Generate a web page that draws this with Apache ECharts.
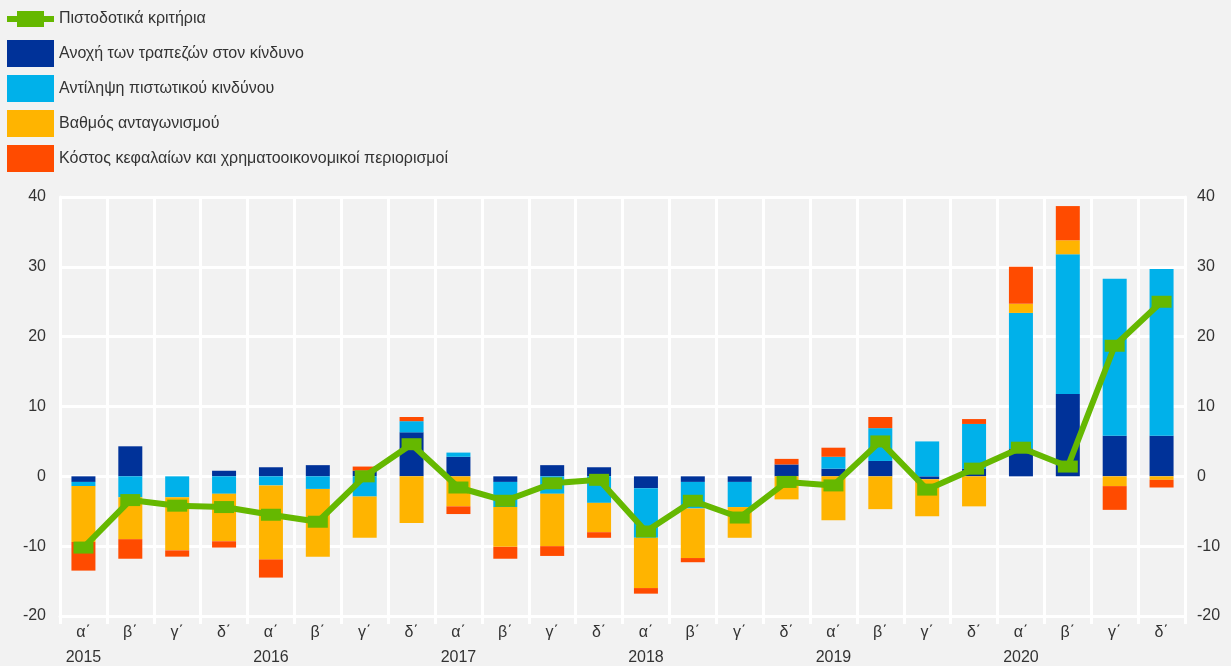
<!DOCTYPE html>
<html>
<head>
<meta charset="utf-8">
<script src="https://cdn.jsdelivr.net/npm/echarts@6/dist/echarts.min.js"></script>
<style>
html, body { margin: 0; padding: 0; background: #f2f2f2; }
#main { width: 1231px; height: 666px; }
</style>
</head>
<body>
<div id="main"></div>
<script>
// τρίμηνα και έτη
var quarters = ['α΄','β΄','γ΄','δ΄','α΄','β΄','γ΄','δ΄','α΄','β΄','γ΄','δ΄',
                'α΄','β΄','γ΄','δ΄','α΄','β΄','γ΄','δ΄','α΄','β΄','γ΄','δ΄'];
var years = ['2015','','','','2016','','','','2017','','','','2018','','','',
             '2019','','','','2020','','',''];

// συνιστώσες
var riskTolerance = [-0.8, 4.3, 0, 0.8, 1.3, 1.6, 0.8, 6.3, 2.8, -0.8, 1.6, 1.3,
                     -1.7, -0.8, -0.8, 1.7, 1.1, 2.2, -0.4, 1.1, 4.0, 11.8, 5.8, 5.8];
var riskPerception = [-0.6, -3.0, -3.0, -2.5, -1.3, -1.8, -2.9, 1.6, 0.6, -3.6, -2.5, -3.8,
                      -7.1, -3.8, -3.6, 0, 1.7, 4.7, 5.0, 6.4, 19.4, 20.0, 22.5, 23.9];
var competition = [-8.0, -6.0, -7.6, -6.8, -10.6, -9.7, -5.9, -6.7, -4.3, -5.7, -7.5, -4.2,
                   -7.2, -7.1, -4.4, -3.3, -6.3, -4.7, -5.3, -4.3, 1.3, 2.0, -1.4, -0.5];
var costOfFunds = [-4.1, -2.8, -0.9, -0.9, -2.6, 0, 0.6, 0.6, -1.1, -1.7, -1.4, -0.8,
                   -0.8, -0.6, 0, 0.8, 1.3, 1.6, 0, 0.7, 5.3, 4.9, -3.4, -1.1];
var creditStandards = [-10.2, -3.4, -4.2, -4.4, -5.5, -6.5, 0.0, 4.6, -1.6, -3.5, -1.0, -0.5,
                       -7.9, -3.5, -5.9, -0.8, -1.3, 5.0, -1.9, 1.1, 4.1, 1.4, 18.7, 25.0];

var names = ['Πιστοδοτικά κριτήρια', 'Ανοχή των τραπεζών στον κίνδυνο',
             'Αντίληψη πιστωτικού κινδύνου', 'Βαθμός ανταγωνισμού',
             'Κόστος κεφαλαίων και χρηματοοικονομικοί περιορισμοί'];
var colors = ['#65b800', '#003299', '#00b1ea', '#ffb400', '#ff4b00'];

var font = 'Liberation Sans';
var textColor = '#333';

function barSeries(name, data, color) {
    return {
        name: name,
        type: 'bar',
        stack: 'total',
        barWidth: 24,
        data: data,
        itemStyle: { color: color },
        emphasis: { disabled: true }
    };
}

var legendText = { fontFamily: font, fontSize: 16, color: textColor };

var myChart = echarts.init(document.getElementById('main'));

var option = {
    backgroundColor: '#f2f2f2',
    animation: false,
    textStyle: { fontFamily: font, color: textColor },
    legend: [
        {
            // γραμμή
            orient: 'vertical',
            left: 7,
            top: 11,
            padding: 0,
            itemWidth: 47,
            itemHeight: 27,
            symbolKeepAspect: true,
            textStyle: legendText,
            data: [
                { name: names[0], icon: 'path://M0,5H47V11H0Z M10,0H37V16H10Z',
                  itemStyle: { color: colors[0], borderWidth: 0 } }
            ]
        },
        {
            // ράβδοι
            orient: 'vertical',
            left: 7,
            top: 40,
            padding: 0,
            itemWidth: 47,
            itemHeight: 27,
            itemGap: 8,
            textStyle: legendText,
            data: [
                { name: names[1], icon: 'rect' },
                { name: names[2], icon: 'rect' },
                { name: names[3], icon: 'rect' },
                { name: names[4], icon: 'rect' }
            ]
        }
    ],
    grid: { left: 60, right: 46, top: 197, bottom: 50 },
    xAxis: [
        {
            type: 'category',
            data: quarters,
            boundaryGap: true,
            axisLine: { show: true, onZero: false, lineStyle: { color: '#fff', width: 3 } },
            axisTick: { show: true, interval: 0, length: 8, lineStyle: { color: '#fff', width: 3 } },
            splitLine: { show: true, interval: 0, lineStyle: { color: '#fff', width: 3 } },
            axisLabel: { interval: 0, fontSize: 16, color: textColor, margin: 9 }
        },
        {
            type: 'category',
            data: years,
            position: 'bottom',
            offset: 25,
            axisLine: { show: false },
            axisTick: { show: false },
            splitLine: { show: false },
            axisLabel: { interval: 0, fontSize: 16, color: textColor, margin: 9 }
        }
    ],
    yAxis: [
        {
            type: 'value',
            min: -20,
            max: 40,
            interval: 10,
            position: 'left',
            axisLine: { show: true, lineStyle: { color: '#fff', width: 3 } },
            axisTick: { show: false },
            splitLine: { show: true, lineStyle: { color: '#fff', width: 3 } },
            axisLabel: { fontSize: 16, color: textColor, margin: 14 }
        },
        {
            type: 'value',
            min: -20,
            max: 40,
            interval: 10,
            position: 'right',
            axisLine: { show: true, lineStyle: { color: '#fff', width: 3 } },
            axisTick: { show: false },
            splitLine: { show: false },
            axisLabel: { fontSize: 16, color: textColor, margin: 12 }
        }
    ],
    series: [
        barSeries(names[1], riskTolerance, colors[1]),
        barSeries(names[2], riskPerception, colors[2]),
        barSeries(names[3], competition, colors[3]),
        barSeries(names[4], costOfFunds, colors[4]),
        {
            name: names[0],
            type: 'line',
            data: creditStandards,
            z: 5,
            symbol: 'rect',
            symbolSize: [20, 12],
            showAllSymbol: true,
            lineStyle: { color: colors[0], width: 6 },
            itemStyle: { color: colors[0], borderWidth: 0 },
            emphasis: { disabled: true }
        }
    ]
};

myChart.setOption(option);

window.addEventListener('resize', function () {
    myChart.resize();
});
</script>
</body>
</html>
